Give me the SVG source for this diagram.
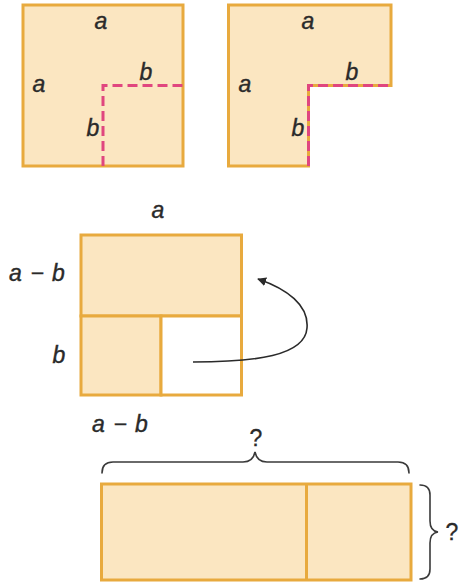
<svg xmlns="http://www.w3.org/2000/svg" width="460" height="588" viewBox="0 0 460 588">
<style>
.sh{fill:#FBE6C1;stroke:#E8AA3E;stroke-width:3;stroke-linejoin:miter}
.ln{fill:none;stroke:#E8AA3E;stroke-width:3}
.dash{fill:none;stroke:#E0467F;stroke-width:3;stroke-dasharray:10 5}
.lb{font-family:"Liberation Sans",Arial,sans-serif;font-style:italic;font-size:23px;fill:#2a2a2a;stroke:#2a2a2a;stroke-width:0.4;text-anchor:middle;word-spacing:2px}
.q{font-family:"Liberation Sans",Arial,sans-serif;font-size:23px;fill:#2a2a2a;stroke:#2a2a2a;stroke-width:0.3;text-anchor:middle}
.br{fill:none;stroke:#3a3a3a;stroke-width:1.6;stroke-linecap:round}
</style>
<defs>
<marker id="ah" viewBox="0 0 10 10" refX="9" refY="5" markerWidth="9" markerHeight="9" markerUnits="userSpaceOnUse" orient="auto">
<path d="M0,0 L10,5 L0,10 z" fill="#2a2a2a"/>
</marker>
</defs>

<g id="square1">
<rect class="sh" x="23" y="5" width="160" height="161"/>
<path class="dash" d="M103,166 V85.5 H183"/>
<text class="lb" x="101" y="29">a</text>
<text class="lb" x="39" y="92">a</text>
<text class="lb" x="146" y="80">b</text>
<text class="lb" x="93" y="136">b</text>
</g>

<g id="lshape">
<path class="sh" d="M228.5,5 H391 V85.5 H308.5 V166 H228.5 Z"/>
<path class="dash" d="M308.5,166 V85.5 H391"/>
<text class="lb" x="308" y="29">a</text>
<text class="lb" x="245" y="92">a</text>
<text class="lb" x="352" y="80">b</text>
<text class="lb" x="298" y="136">b</text>
</g>

<g id="middle">
<rect class="sh" x="81" y="235" width="160.5" height="81"/>
<rect class="sh" x="81" y="316" width="80" height="79"/>
<rect x="161" y="316" width="80.5" height="79" fill="#ffffff" stroke="#E8AA3E" stroke-width="3"/>
<text class="lb" x="158" y="218">a</text>
<text class="lb" x="37" y="281">a − b</text>
<text class="lb" x="59" y="363">b</text>
<text class="lb" x="120" y="432">a − b</text>
</g>

<g id="bottom">
<rect class="sh" x="101.5" y="484" width="309.5" height="96"/>
<line class="ln" x1="306.5" y1="484" x2="306.5" y2="580"/>
<text class="q" x="256" y="446">?</text>
<text class="q" x="452" y="540">?</text>
</g>

<g id="connectors">
<path d="M193,362 C255,362 305,356 307,328 C309,305 287,289 258,279" fill="none" stroke="#2a2a2a" stroke-width="1.6" marker-end="url(#ah)"/>
<path class="br" d="M102,473 Q102,462 113,462 H243 Q253,462 255,452 Q257,462 267,462 H398 Q409,462 409,473"/>
<path class="br" d="M420,485 Q430,485 430,495 V521 Q430,531 438,532 Q430,533 430,543 V569 Q430,579 420,579"/>
</g>
</svg>
